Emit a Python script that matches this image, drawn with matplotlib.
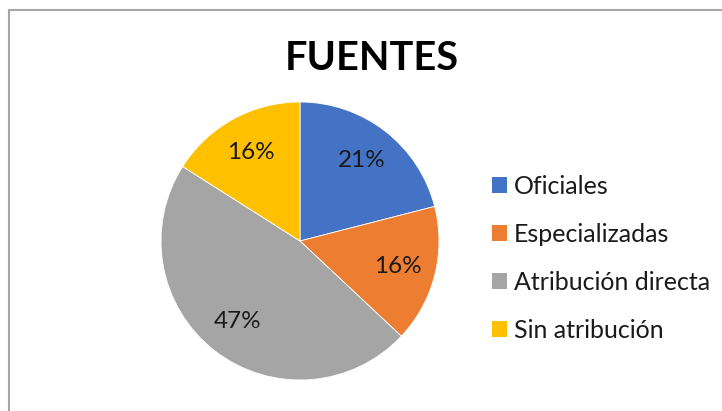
import matplotlib
matplotlib.use("Agg")
import matplotlib.pyplot as plt
from matplotlib.lines import Line2D
from matplotlib.patches import Patch

categories = ["Oficiales", "Especializadas", "Atribución directa", "Sin atribución"]
values = [21, 16, 47, 16]
colors = ["#4472C4", "#ED7D31", "#A5A5A5", "#FFC000"]
title = "FUENTES"

plt.rcParams['font.family'] = ['Lato', 'DejaVu Sans']

W, H = 722, 411
fig = plt.figure(figsize=(W / 100, H / 100), dpi=100)

# chart frame (top and left visible)
fig.add_artist(Line2D([8.5 / W, 1.0], [1 - 10 / H, 1 - 10 / H], color="#A6A6A6", lw=1.5, transform=fig.transFigure))
fig.add_artist(Line2D([8.5 / W, 8.5 / W], [1 - 10 / H, 0.0], color="#A6A6A6", lw=1.5, transform=fig.transFigure))

cx, cy, r = 300, 241, 139
ax = fig.add_axes([(cx - r) / W, 1 - (cy + r) / H, 2 * r / W, 2 * r / H])
wedges, texts, autotexts = ax.pie(
    values, colors=colors, startangle=90, counterclock=False,
    autopct=lambda p: f"{p:.0f}%", pctdistance=0.73,
    wedgeprops=dict(edgecolor="white", linewidth=0.6),
    textprops=dict(fontsize=17.5, color="#1a1a1a"),
)
ax.set_xlim(-1, 1)
ax.set_ylim(-1, 1)

fig.text(372 / W, 1 - 58 / H, title, ha="center", va="center", fontsize=28.5, fontweight="bold", color="black")

handles = [Patch(facecolor=c, edgecolor="none") for c in colors]
leg = fig.legend(handles, categories, loc="upper left", bbox_to_anchor=(492 / W, 1 - 175 / H),
                 frameon=False, fontsize=18, handlelength=0.6, handleheight=0.6,
                 handletextpad=0.28, labelspacing=1.0, borderpad=0, borderaxespad=0)
for t in leg.get_texts():
    t.set_color("#1a1a1a")

fig.savefig("out.png", dpi=100)
